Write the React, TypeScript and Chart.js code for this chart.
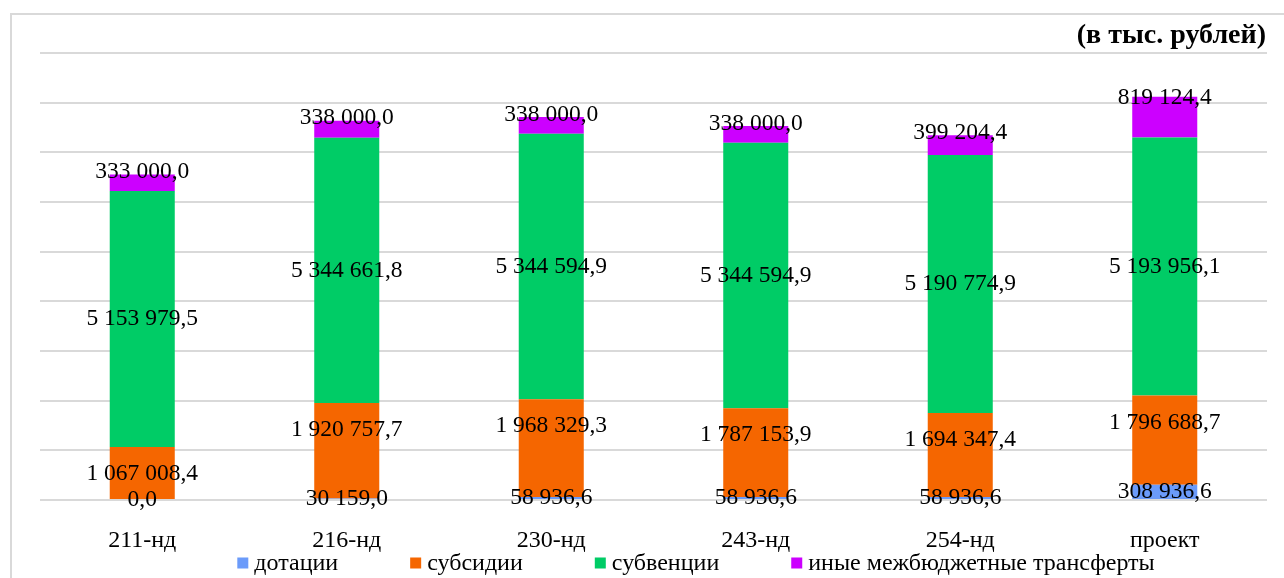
import React, { useEffect, useRef } from "react";
import { Chart, registerables } from "chart.js";

Chart.register(...registerables);

const categories = ["211-нд", "216-нд", "230-нд", "243-нд", "254-нд", "проект"];
const seriesNames = ["дотации", "субсидии", "субвенции", "иные межбюджетные трансферты"];
const dotacii = [0.0, 30159.0, 58936.6, 58936.6, 58936.6, 308936.6];
const subsidii = [1067008.4, 1920757.7, 1968329.3, 1787153.9, 1694347.4, 1796688.7];
const subvencii = [5153979.5, 5344661.8, 5344594.9, 5344594.9, 5190774.9, 5193956.1];
const inye = [333000.0, 338000.0, 338000.0, 338000.0, 399204.4, 819124.4];
const unitLabel = "(в тыс. рублей)";

const colors = ["#6B9BFA", "#F56600", "#00CC66", "#CC00FF"];
const FONT = "'Liberation Serif', 'Times New Roman', serif";

function fmt(v: number): string {
  const [i, d] = v.toFixed(1).split(".");
  return i.replace(/\B(?=(\d{3})+(?!\d))/g, " ") + "," + d;
}

const framePlugin = {
  id: "frame",
  beforeDraw(chart: any) {
    const ctx = chart.ctx;
    ctx.save();
    ctx.fillStyle = "#ffffff";
    ctx.fillRect(0, 0, chart.width, chart.height);
    ctx.strokeStyle = "#d9d9d9";
    ctx.lineWidth = 2;
    ctx.strokeRect(11, 14, chart.width + 20, chart.height + 20);
    ctx.restore();
  },
  afterDraw(chart: any) {
    const ctx = chart.ctx;
    ctx.save();
    ctx.fillStyle = "#000";
    ctx.font = `bold 28px ${FONT}`;
    ctx.textAlign = "right";
    ctx.textBaseline = "middle";
    ctx.fillText(unitLabel, chart.chartArea.right - 1, 36);
    // legend
    ctx.font = `24px ${FONT}`;
    ctx.textAlign = "left";
    const box = 11;
    const gapText = 6;
    const gapItem = 72;
    const widths = chart.data.datasets.map((ds: any) => box + gapText + ctx.measureText(ds.label).width);
    const total = widths.reduce((a: number, b: number) => a + b, 0) + gapItem * (widths.length - 1);
    let x = 696 - total / 2;
    const cy = 564;
    chart.data.datasets.forEach((ds: any, i: number) => {
      ctx.fillStyle = ds.backgroundColor;
      ctx.fillRect(x, cy - box / 2 - 1, box, box);
      ctx.fillStyle = "#000";
      ctx.fillText(ds.label, x + box + gapText, cy);
      x += widths[i] + gapItem;
    });
    ctx.restore();
  },
};

const labelPlugin = {
  id: "stackLabels",
  afterDatasetsDraw(chart: any) {
    const ctx = chart.ctx;
    ctx.save();
    ctx.fillStyle = "#000";
    ctx.font = `23.5px ${FONT}`;
    ctx.textAlign = "center";
    chart.data.datasets.forEach((ds: any, di: number) => {
      const meta = chart.getDatasetMeta(di);
      meta.data.forEach((el: any, i: number) => {
        const v = ds.data[i];
        const top = Math.min(el.y, el.base);
        const bottom = Math.max(el.y, el.base);
        let y: number;
        if (di === 3) {
          ctx.textBaseline = "alphabetic";
          y = top + 0.15 * (bottom - top) + 1;
        } else if (di === 1) {
          ctx.textBaseline = "middle";
          y = top + 27;
        } else {
          ctx.textBaseline = "middle";
          y = (top + bottom) / 2;
        }
        ctx.fillText(fmt(v), el.x, y);
      });
    });
    ctx.restore();
  },
};

export default function App() {
  const ref = useRef<HTMLCanvasElement | null>(null);
  useEffect(() => {
    if (!ref.current) return;
    const data = [dotacii, subsidii, subvencii, inye];
    const chart = new Chart(ref.current, {
      type: "bar",
      data: {
        labels: categories,
        datasets: seriesNames.map((name, i) => ({
          label: name,
          data: data[i],
          backgroundColor: colors[i],
          borderWidth: 0,
          barPercentage: 0.318,
          categoryPercentage: 1,
        })),
      },
      options: {
        animation: false,
        responsive: false,
        devicePixelRatio: 1,
        layout: { padding: { left: 40, right: 17, top: 53, bottom: 25 } },
        plugins: {
          legend: { display: false },
          tooltip: { enabled: false },
          title: { display: false },
        },
        scales: {
          x: {
            stacked: true,
            grid: { display: false, drawTicks: false },
            border: { display: false },
            ticks: { color: "#000", font: { family: FONT, size: 24 }, padding: 26 },
            afterFit: (scale: any) => {
              scale.height = 53;
            },
          },
          y: {
            stacked: true,
            min: 0,
            max: 9000000,
            grid: { color: "#d9d9d9", lineWidth: 2, drawTicks: false },
            border: { display: false },
            ticks: { display: false, stepSize: 1000000 },
          },
        },
      },
      plugins: [framePlugin, labelPlugin],
    });
    return () => chart.destroy();
  }, []);
  return (
    <div style={{ position: "fixed", left: 0, top: 0, width: 1284, height: 578 }}>
      <canvas ref={ref} width={1284} height={578} style={{ width: 1284, height: 578, display: "block" }} />
    </div>
  );
}
